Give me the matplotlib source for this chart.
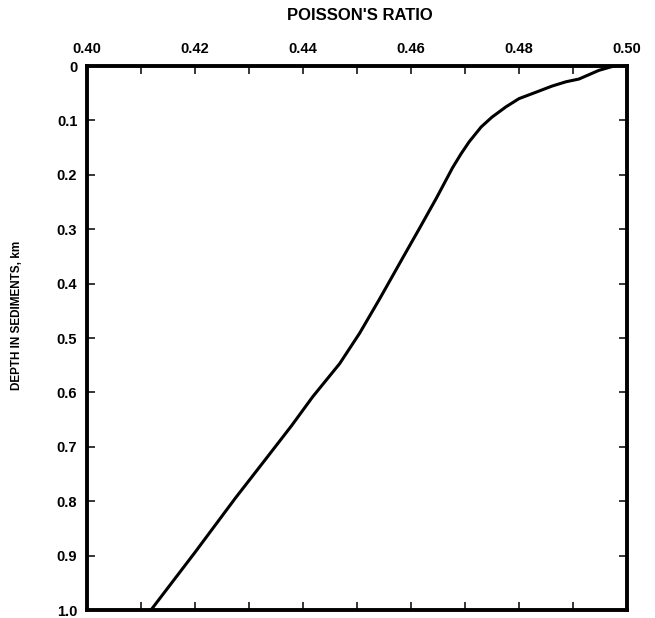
import matplotlib
matplotlib.use("Agg")
import matplotlib.pyplot as plt

# Poisson's ratio vs depth in sediments
poisson = [0.4976, 0.4948, 0.4911, 0.4887, 0.4861, 0.4832, 0.4800, 0.4776,
           0.4750, 0.4730, 0.4708, 0.4693, 0.4677, 0.4647, 0.4616, 0.4584,
           0.4542, 0.4505, 0.4468, 0.4418, 0.4379, 0.4333, 0.4275, 0.4200,
           0.4120]
depth_km = [0.000, 0.008, 0.024, 0.029, 0.037, 0.048, 0.060, 0.075,
            0.094, 0.112, 0.139, 0.161, 0.187, 0.243, 0.298, 0.354,
            0.428, 0.491, 0.547, 0.608, 0.661, 0.720, 0.794, 0.894,
            0.998]

x_major = [0.40, 0.42, 0.44, 0.46, 0.48, 0.50]
x_major_labels = ["0.40", "0.42", "0.44", "0.46", "0.48", "0.50"]
x_minor = [0.41, 0.43, 0.45, 0.47, 0.49]
y_ticks = [0.0, 0.1, 0.2, 0.3, 0.4, 0.5, 0.6, 0.7, 0.8, 0.9, 1.0]
y_labels = ["0", "0.1", "0.2", "0.3", "0.4", "0.5", "0.6", "0.7", "0.8", "0.9", "1.0"]

plt.rcParams['font.family'] = ['Liberation Sans', 'DejaVu Sans']
plt.rcParams['font.weight'] = 'bold'

fig = plt.figure(figsize=(6.55, 6.18), dpi=100)
ax = fig.add_axes([0.1328, 0.0129, 0.8244, 0.8803])

ax.plot(poisson, depth_km, color='black', linewidth=2.2,
        solid_capstyle='round', solid_joinstyle='round')

ax.set_xlim(0.40, 0.50)
ax.set_ylim(1.0, 0.0)

# x axis on top, ticks pointing inwards on every side
ax.xaxis.set_ticks_position('both')
ax.xaxis.set_label_position('top')
ax.tick_params(axis='x', which='both', top=True, bottom=True,
               labeltop=True, labelbottom=False, direction='in')
ax.set_xticks(x_major)
ax.set_xticklabels(x_major_labels, fontsize=10.5, fontweight='bold')
ax.set_xticks(x_minor, minor=True)

ax.yaxis.set_ticks_position('both')
ax.tick_params(axis='y', which='both', left=True, right=True,
               labelleft=True, labelright=False, direction='in')
ax.set_yticks(y_ticks)
ax.set_yticklabels(y_labels, fontsize=10.5, fontweight='bold')

ax.tick_params(which='both', length=6, width=1.1, pad=7, color='black')

for side in ['left', 'right', 'top', 'bottom']:
    ax.spines[side].set_linewidth(2.8)
    ax.spines[side].set_color('black')

ax.set_ylabel("DEPTH IN SEDIMENTS, km", fontsize=8.5, fontweight='bold')
ax.yaxis.set_label_coords(-0.119, 0.542)

fig.text(360 / 655, 1 - 16 / 618, "POISSON'S RATIO", ha='center', va='center',
         fontsize=12, fontweight='bold')

fig.savefig("out.png", dpi=100)
